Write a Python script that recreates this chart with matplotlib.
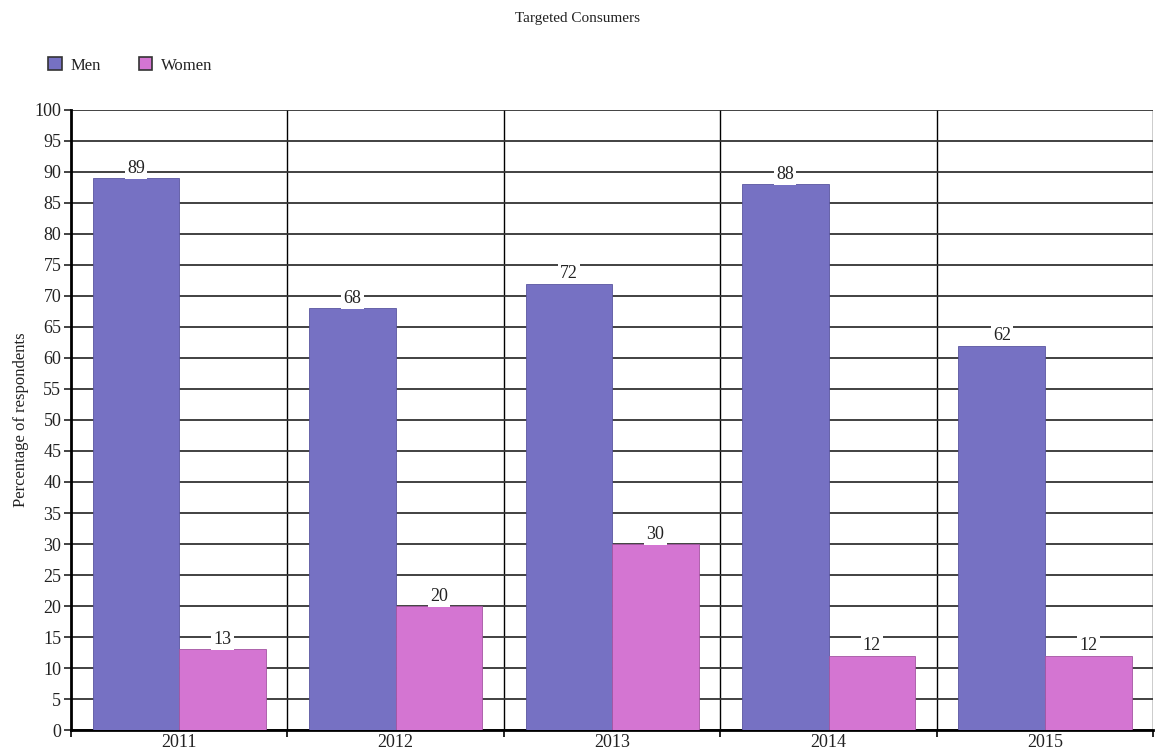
import matplotlib
matplotlib.use("Agg")
import matplotlib.pyplot as plt
import numpy as np
from matplotlib.patches import Patch

# survey data
years = ["2011", "2012", "2013", "2014", "2015"]
men = [89, 68, 72, 88, 62]
women = [13, 20, 30, 12, 12]

men_color = "#7671c3"
women_color = "#d475d2"

plt.rcParams["font.family"] = ["Liberation Serif", "DejaVu Serif"]

fig = plt.figure(figsize=(11.55, 7.53), dpi=100)
ax = fig.add_axes([0.0615, 0.0305, 0.937, 0.8235])

x = np.arange(len(years))
w = 0.4
b1 = ax.bar(x - w / 2, men, w, color=men_color, edgecolor="#5a56a0", linewidth=0.6, zorder=3)
b2 = ax.bar(x + w / 2, women, w, color=women_color, edgecolor="#a455a2", linewidth=0.6, zorder=3)

for bars, vals in ((b1, men), (b2, women)):
    for r, v in zip(bars, vals):
        ax.annotate(str(v), (r.get_x() + r.get_width() / 2, v), xytext=(0, 1),
                    textcoords="offset points", ha="center", va="bottom",
                    fontsize=13, color="#222222", zorder=4,
                    bbox=dict(boxstyle="square,pad=0.12", fc="white", ec="none"))

ax.set_xlim(-0.5, len(years) - 0.5)
ax.set_ylim(0, 100)
ax.set_yticks(range(0, 101, 5))
ax.set_xticks(x)
ax.set_xticklabels(years)
ax.set_xticks(np.arange(-0.5, len(years)), minor=True)

ax.yaxis.grid(True, color="#333333", linewidth=1.3, zorder=0)
for b in np.arange(0.5, len(years)):
    ax.axvline(b, color="black", linewidth=1.0, zorder=1)

ax.tick_params(axis="y", length=5, width=1.2, labelsize=13, pad=2, colors="#222222")
ax.tick_params(axis="x", which="major", length=0, labelsize=13, pad=3, labelcolor="#222222")
ax.tick_params(axis="x", which="minor", length=5, width=1.2, direction="out")

for s in ("top", "right"):
    ax.spines[s].set_visible(False)
ax.spines["left"].set_linewidth(2)
ax.spines["bottom"].set_linewidth(2)

ax.set_ylabel("Percentage of respondents", fontsize=12, color="#222222", labelpad=4)

fig.text(0.5, 0.975, "Targeted Consumers", ha="center", va="center", fontsize=11, color="#222222")

handles = [Patch(facecolor=men_color, edgecolor="#333333", linewidth=1.2, label="Men"),
           Patch(facecolor=women_color, edgecolor="#333333", linewidth=1.2, label="Women")]
fig.legend(handles=handles, loc="center left", bbox_to_anchor=(0.029, 0.913), ncol=2,
           frameon=False, handlelength=0.8, handleheight=0.8, handletextpad=0.5,
           columnspacing=2.3, fontsize=12, labelcolor="#222222")

fig.savefig("out.png", dpi=100)
